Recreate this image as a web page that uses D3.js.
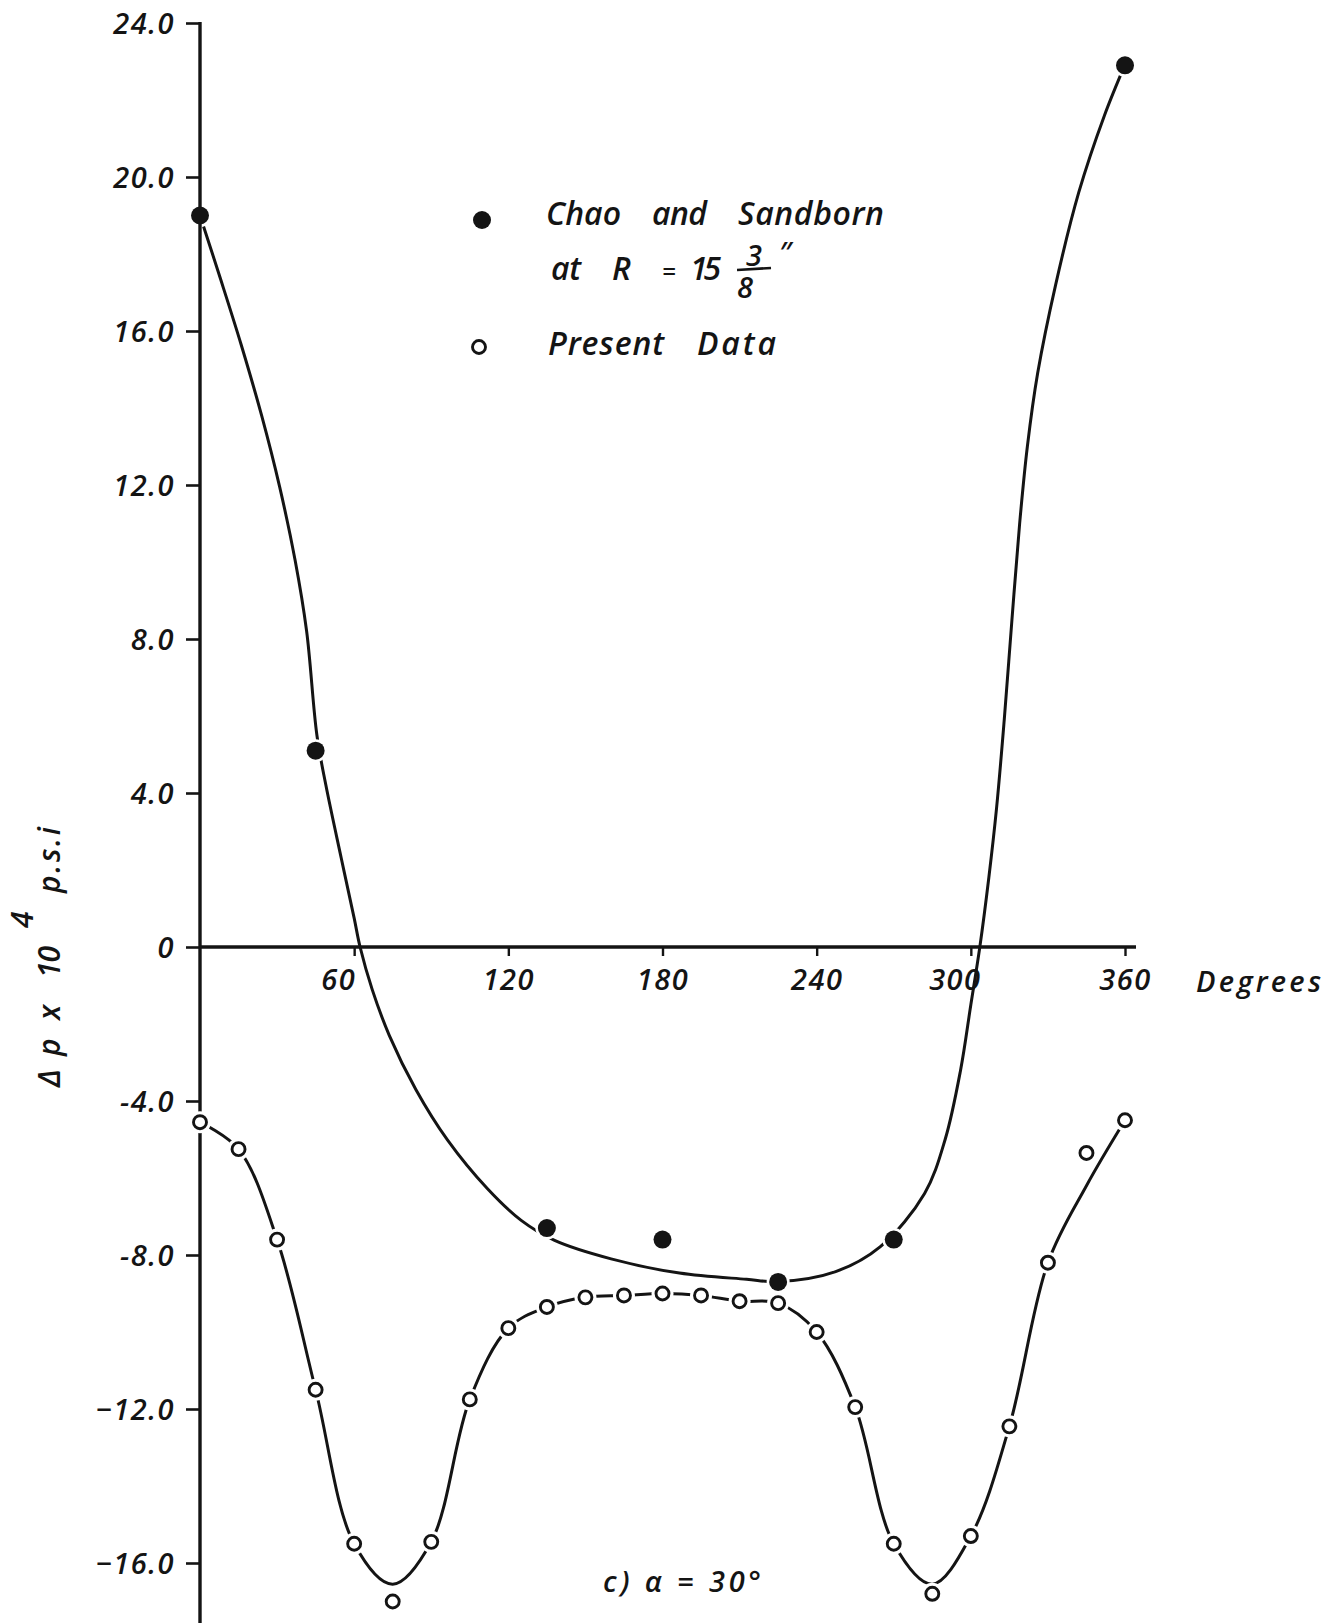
<!DOCTYPE html>
<html>
<head>
<meta charset="utf-8">
<script src="https://cdn.jsdelivr.net/npm/d3@7"></script>
<style>
  html, body { margin: 0; padding: 0; background: #ffffff; }
  svg { display: block; }
  text { font-family: "Open Sans", "DejaVu Sans", sans-serif; font-style: italic; font-weight: 600; fill: #141414; }
</style>
</head>
<body>
<svg id="chart" width="1343" height="1623"></svg>
<script>
// ---- axis ticks ----
const yTickValues = [24, 20, 16, 12, 8, 4, 0, -4, -8, -12, -16];
const yTickLabels = ["24.0", "20.0", "16.0", "12.0", "8.0", "4.0", "0", "-4.0", "-8.0", "\u221212.0", "\u221216.0"];
const xTickValues = [60, 120, 180, 240, 300, 360];
const xTickLabels = ["60", "120", "180", "240", "300", "360"];

// ---- Chao and Sandborn, R = 15 3/8 in. (filled dots) ----
const chaoAngles = [0, 45, 135, 180, 225, 270, 360];
const chaoValues = [19.0, 5.1, -7.3, -7.6, -8.7, -7.6, 22.9];

// faired curve drawn through the Chao and Sandborn data
const chaoCurveAngles = [0, 8, 16, 24, 31, 37, 41.5, 45.5, 49, 55, 60, 62.3, 67, 73.7, 84, 96.3, 111.9, 125, 138, 160, 186.6, 212.7, 225, 247.4, 264.8, 282, 290, 296, 300, 303.5, 307, 310, 313, 316, 319, 322, 326, 333, 342, 352, 360];
const chaoCurveValues = [19.0, 17.35, 15.65, 13.8, 11.95, 10.05, 8.2, 5.5, 4.2, 2.3, 0.75, 0, -1.1, -2.3, -3.7, -5.01, -6.28, -7.1, -7.62, -8.1, -8.47, -8.63, -8.69, -8.43, -7.78, -6.4, -5.0, -3.2, -1.5, 0, 1.8, 3.6, 5.9, 8.5, 11.0, 13.0, 14.9, 17.2, 19.6, 21.6, 22.92];

// ---- present data (open circles), every 15 degrees ----
const presentAngles = [0, 15, 30, 45, 60, 75, 90, 105, 120, 135, 150, 165, 180, 195, 210, 225, 240, 255, 270, 285, 300, 315, 330, 345, 360];
const presentValues = [-4.55, -5.25, -7.6, -11.5, -15.5, -17.0, -15.45, -11.75, -9.9, -9.35, -9.1, -9.05, -9.0, -9.05, -9.2, -9.25, -10.0, -11.95, -15.5, -16.8, -15.3, -12.45, -8.2, -5.35, -4.5];

// faired curve through the present data
const presentCurveValues = [-4.55, -5.25, -7.6, -11.5, -15.5, -16.55, -15.45, -11.75, -9.9, -9.35, -9.1, -9.05, -9.0, -9.05, -9.2, -9.25, -10.0, -11.95, -15.5, -16.55, -15.3, -12.45, -8.2, -6.2, -4.5];

// ---- drawing ----
const W = 1343, H = 1623;
const ink = "#141414";
const fontStack = '"Open Sans", "DejaVu Sans", sans-serif';
const svg = d3.select("#chart");

const x = d3.scaleLinear().domain([0, 360]).range([200, 1125]);
const y = d3.scaleLinear().domain([-16, 24]).range([1563, 23]);

const gCurves = svg.append("g");
const gHalo = svg.append("g");
const gAxes = svg.append("g");
const gMarks = svg.append("g");

// y axis
const yAxis = d3.axisLeft(y)
  .tickValues(yTickValues)
  .tickFormat((d, i) => yTickLabels[i])
  .tickSize(14)
  .tickPadding(11);
const gy = gAxes.append("g")
  .attr("transform", `translate(${x(0)},0)`)
  .call(yAxis)
  .attr("font-family", fontStack)
  .attr("font-size", 29)
  .attr("color", ink);
gy.select(".domain").remove();
gy.selectAll(".tick line").attr("stroke-width", 2.6);
gy.selectAll(".tick text").attr("letter-spacing", 1.5).attr("dy", "0.36em");

gAxes.append("line")
  .attr("x1", x(0)).attr("x2", x(0))
  .attr("y1", y(24) - 1).attr("y2", H)
  .attr("stroke", ink).attr("stroke-width", 3.4);

// x axis along zero
const xAxis = d3.axisBottom(x)
  .tickValues(xTickValues)
  .tickFormat((d, i) => xTickLabels[i])
  .tickSize(9)
  .tickPadding(13);
const gx = gAxes.append("g")
  .attr("transform", `translate(0,${y(0)})`)
  .call(xAxis)
  .attr("font-family", fontStack)
  .attr("font-size", 29)
  .attr("color", ink);
gx.select(".domain").remove();
gx.selectAll(".tick line").attr("stroke-width", 2.4);
gx.selectAll(".tick text").attr("letter-spacing", 1.5)
  // labels where the curve crosses the axis sit a little to the left
  .attr("dx", d => (d === 60 || d === 300) ? -16 : 0);

gAxes.append("line")
  .attr("x1", x(0)).attr("x2", x(360) + 11)
  .attr("y1", y(0)).attr("y2", y(0))
  .attr("stroke", ink).attr("stroke-width", 3.6);

gAxes.append("text")
  .attr("x", 1196).attr("y", y(0) + 45)
  .attr("font-size", 29)
  .attr("textLength", 125).attr("lengthAdjust", "spacing")
  .text("Degrees");

// y axis title, rotated to read upward
const yTitle = gAxes.append("text")
  .attr("transform", "translate(60,0) rotate(-90)")
  .attr("font-size", 30);
yTitle.append("tspan").attr("x", -1087).text("\u0394");
yTitle.append("tspan").attr("x", -1056).text("p");
yTitle.append("tspan").attr("x", -1020).text("x");
yTitle.append("tspan").attr("x", -978).attr("textLength", 32).text("10");
yTitle.append("tspan").attr("x", -928).attr("dy", -27).text("4");
yTitle.append("tspan").attr("x", -893).attr("dy", 27).attr("textLength", 66).text("p.s.i");

// curves
const line = d3.line()
  .x(d => x(d[0]))
  .y(d => y(d[1]))
  .curve(d3.curveCatmullRom.alpha(0.5));

gCurves.append("path")
  .datum(d3.zip(chaoCurveAngles, chaoCurveValues))
  .attr("d", line)
  .attr("fill", "none").attr("stroke", ink).attr("stroke-width", 3);

gCurves.append("path")
  .datum(d3.zip(presentAngles, presentCurveValues))
  .attr("d", line)
  .attr("fill", "none").attr("stroke", ink).attr("stroke-width", 3);

// filled dots get a thin white gap where the faired curve meets them
const chao = d3.zip(chaoAngles, chaoValues);
gHalo.selectAll("circle")
  .data(chao).join("circle")
  .attr("cx", d => x(d[0])).attr("cy", d => y(d[1]))
  .attr("r", 11.5).attr("fill", "#ffffff");

// open circles with a white gap around them
const present = d3.zip(presentAngles, presentValues);
gMarks.selectAll("circle.halo")
  .data(present).join("circle")
  .attr("class", "halo")
  .attr("cx", d => x(d[0])).attr("cy", d => y(d[1]))
  .attr("r", 11).attr("fill", "#ffffff");
gMarks.selectAll("circle.open")
  .data(present).join("circle")
  .attr("class", "open")
  .attr("cx", d => x(d[0])).attr("cy", d => y(d[1]))
  .attr("r", 6.5).attr("fill", "#ffffff")
  .attr("stroke", ink).attr("stroke-width", 2.9);

gMarks.selectAll("circle.filled")
  .data(chao).join("circle")
  .attr("class", "filled")
  .attr("cx", d => x(d[0])).attr("cy", d => y(d[1]))
  .attr("r", 9).attr("fill", ink);

// legend
const gLeg = svg.append("g");
gLeg.append("circle").attr("cx", 482).attr("cy", 220).attr("r", 9).attr("fill", ink);
gLeg.append("circle").attr("cx", 479).attr("cy", 347).attr("r", 6.5)
  .attr("fill", "#fff").attr("stroke", ink).attr("stroke-width", 2.9);

function word(xp, yp, str, len, size) {
  const t = gLeg.append("text").attr("x", xp).attr("y", yp)
    .attr("font-size", size || 32).text(str);
  if (len) t.attr("textLength", len).attr("lengthAdjust", "spacing");
  return t;
}
word(546, 225, "Chao", 75);
word(652, 225, "and", 55);
word(738, 225, "Sandborn", 146);
word(551, 280, "at", 30);
word(612, 280, "R", null);
word(662, 280, "=", null, 24);
word(690, 280, "15", 31);
word(746, 266, "3", null, 29);
gLeg.append("line").attr("x1", 737).attr("x2", 771).attr("y1", 270).attr("y2", 268)
  .attr("stroke", ink).attr("stroke-width", 2.6);
word(737, 298, "8", null, 29);
word(779, 263, "\u2033", null, 28);
word(548, 355, "Present", 116);
word(697, 355, "Data", 79);

// panel caption
svg.append("text")
  .attr("x", 603).attr("y", 1592)
  .attr("font-size", 29)
  .attr("textLength", 158).attr("lengthAdjust", "spacing")
  .text("c) \u03b1 = 30\u00b0");
</script>
</body>
</html>
